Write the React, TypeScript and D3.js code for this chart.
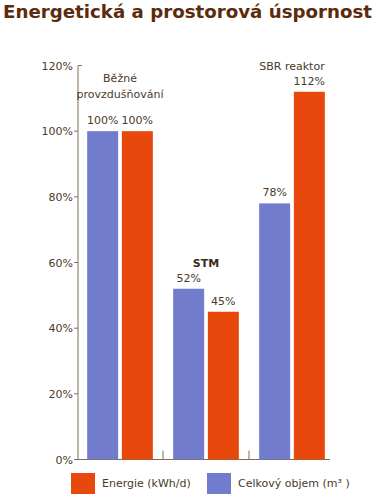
import React from "react";
import * as d3 from "d3";

const title = "Energetická a prostorová úspornost";
const groups = ["Běžné provzdušňování", "STM", "SBR reaktor"];
const groupLabelLines = [["Běžné", "provzdušňování"], ["STM"], ["SBR reaktor"]];
const groupLabelBold = [false, true, false];
const seriesKeys = ["objem", "energie"];
const seriesNames = ["Celkový objem (m³ )", "Energie (kWh/d)"];
const objemValues = [100, 52, 78];
const energieValues = [100, 45, 112];
const yTicks = [0, 20, 40, 60, 80, 100, 120];

const W = 377;
const H = 499;
const COLORS: Record<string, string> = { objem: "#717dcc", energie: "#e8480c" };
const AXIS = "#7d6e55";
const TEXT = "#4a3a2a";
const FONT = "'DejaVu Sans', Verdana, sans-serif";

export default function App() {
  const y = d3.scaleLinear().domain([0, 120]).range([459.5, 65.5]);
  const x = d3.scaleBand<string>().domain(groups).range([77, 335]).padding(0);
  const xs = d3
    .scaleBand<string>()
    .domain(seriesKeys)
    .range([0, x.bandwidth()])
    .paddingInner(0.107)
    .paddingOuter(0.293);
  const seriesValues: Record<string, number[]> = { objem: objemValues, energie: energieValues };
  const axisX = 78;
  const axisEnd = 330;

  return (
    <svg
      width={W}
      height={H}
      style={{ position: "absolute", left: 0, top: 0, background: "#fff" }}
      fontFamily={FONT}
    >
      <rect width={W} height={H} fill="#fff" />
      <text
        x={3}
        y={18}
        fontSize={17}
        fontWeight="bold"
        fill="#5b2b0c"
        textLength={369}
        lengthAdjust="spacingAndGlyphs"
      >
        {title}
      </text>

      {/* y axis */}
      <line x1={axisX} x2={axisX} y1={y(0)} y2={y(120)} stroke={AXIS} strokeWidth={1} />
      {yTicks.map((t) => (
        <g key={t}>
          {t === 120 ? (
            <line x1={axisX} x2={axisX + 4} y1={y(t)} y2={y(t)} stroke={AXIS} />
          ) : (
            <line x1={axisX - 4} x2={axisX} y1={y(t)} y2={y(t)} stroke={AXIS} />
          )}
          <text
            x={73}
            y={y(t) + 4}
            textAnchor="end"
            fontSize={11}
            fill={TEXT}
          >
            {t}%
          </text>
        </g>
      ))}
      {/* baseline */}
      <line x1={axisX} x2={axisEnd} y1={y(0)} y2={y(0)} stroke={AXIS} />
      {groups.slice(1).map((g) => (
        <line
          key={g}
          x1={x(g)!}
          x2={x(g)!}
          y1={y(0)}
          y2={y(0) - 9}
          stroke={AXIS}
        />
      ))}

      {/* bars */}
      {groups.map((g, gi) => (
        <g key={g}>
          {seriesKeys.map((k) => {
            const v = seriesValues[k][gi];
            const bx = x(g)! + xs(k)!;
            return (
              <g key={k}>
                <rect
                  x={bx}
                  y={y(v)}
                  width={xs.bandwidth()}
                  height={y(0) - y(v)}
                  fill={COLORS[k]}
                />
                <text
                  x={bx + xs.bandwidth() / 2}
                  y={y(v) - 7}
                  textAnchor="middle"
                  fontSize={11}
                  fill={TEXT}
                >
                  {v}%
                </text>
              </g>
            );
          })}
          {(() => {
            const maxV = Math.max(objemValues[gi], energieValues[gi]);
            const lines = groupLabelLines[gi];
            const extra = lines.length > 1 ? 11 : 0;
            const last = y(maxV) - 7 - 15 - extra;
            return lines.map((ln, li) => (
              <text
                key={li}
                x={x(g)! + x.bandwidth() / 2}
                y={last - (lines.length - 1 - li) * 16}
                textAnchor="middle"
                fontSize={11}
                fontWeight={groupLabelBold[gi] ? "bold" : "normal"}
                fill={groupLabelBold[gi] ? "#3a2a1a" : TEXT}
              >
                {ln}
              </text>
            ));
          })()}
        </g>
      ))}

      {/* legend */}
      {[1, 0].map((si, i) => {
        const lx = i === 0 ? 71 : 207;
        return (
          <g key={si}>
            <rect x={lx} y={473} width={24} height={21} fill={COLORS[seriesKeys[si]]} />
            <text x={lx + 31} y={487} fontSize={11} fill={TEXT}>
              {seriesNames[si]}
            </text>
          </g>
        );
      })}
    </svg>
  );
}
